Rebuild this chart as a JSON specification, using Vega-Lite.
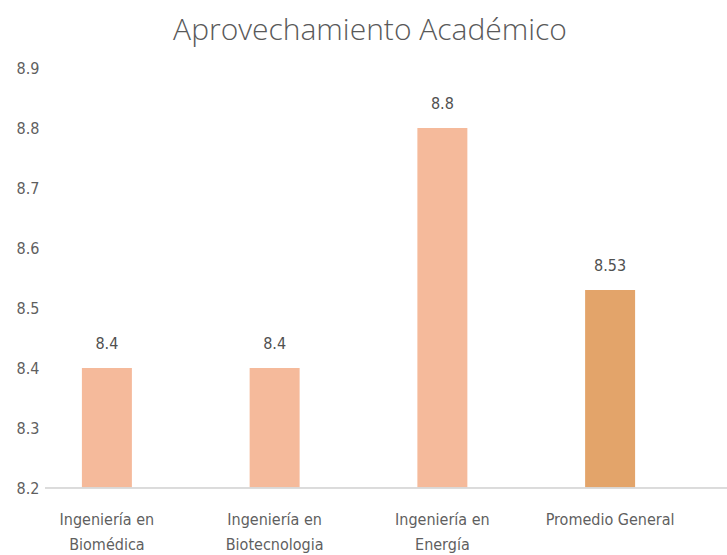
{
  "$schema": "https://vega.github.io/schema/vega-lite/v6.json",
  "autosize": "none",
  "width": 682,
  "height": 420,
  "padding": {"left": 45, "top": 68, "right": 0, "bottom": 67},
  "background": "white",
  "title": {
    "text": "Aprovechamiento Académico",
    "font": "Open Sans",
    "fontSize": 30,
    "fontWeight": 300,
    "color": "#595959",
    "anchor": "middle",
    "frame": "group",
    "dx": -16,
    "offset": 14
  },
  "config": {
    "view": {"stroke": null},
    "font": "DejaVu Sans Condensed, Open Sans, sans-serif"
  },
  "data": {
    "values": [
      {"carrera": "Ingeniería en Biomédica", "valor": 8.4, "etiqueta": "8.4", "tipo": "carrera"},
      {"carrera": "Ingeniería en Biotecnologia", "valor": 8.4, "etiqueta": "8.4", "tipo": "carrera"},
      {"carrera": "Ingeniería en Energía", "valor": 8.8, "etiqueta": "8.8", "tipo": "carrera"},
      {"carrera": "Promedio General", "valor": 8.53, "etiqueta": "8.53", "tipo": "promedio"}
    ]
  },
  "encoding": {
    "x": {
      "field": "carrera",
      "type": "nominal",
      "sort": null,
      "scale": {"range": [0, 627], "paddingInner": 0.702, "paddingOuter": 0.22},
      "axis": {
        "title": null,
        "domain": false,
        "ticks": false,
        "labelAngle": 0,
        "labelFont": "DejaVu Sans Condensed, Open Sans, sans-serif",
        "labelFontSize": 16,
        "labelColor": "#5f5f5f",
        "labelPadding": 23,
        "labelLineHeight": 25,
        "labelExpr": "indexof(datum.value, 'Ingeniería en') == 0 ? ['Ingeniería en', substring(datum.value, 14)] : datum.value"
      }
    },
    "y": {
      "field": "valor",
      "type": "quantitative",
      "scale": {"domain": [8.2, 8.9], "zero": false, "nice": false},
      "axis": {
        "title": null,
        "domain": false,
        "ticks": false,
        "grid": false,
        "values": [8.2, 8.3, 8.4, 8.5, 8.6, 8.7, 8.8, 8.9],
        "format": ".1f",
        "labelFont": "DejaVu Sans Condensed, Open Sans, sans-serif",
        "labelFontSize": 16,
        "labelColor": "#5f5f5f",
        "labelPadding": 6
      }
    }
  },
  "layer": [
    {
      "mark": {"type": "bar", "clip": true},
      "encoding": {
        "y2": {"datum": 8.2},
        "color": {
          "field": "tipo",
          "type": "nominal",
          "scale": {"domain": ["carrera", "promedio"], "range": ["#F5BA9B", "#E3A46A"]},
          "legend": null
        }
      }
    },
    {
      "mark": {"type": "text", "dy": -16, "fontSize": 16, "color": "#505050", "baseline": "bottom", "font": "DejaVu Sans Condensed, Open Sans, sans-serif"},
      "encoding": {"text": {"field": "etiqueta", "type": "nominal"}}
    },
    {
      "mark": {"type": "rule", "color": "#d9d9d9", "strokeWidth": 1},
      "encoding": {"y": {"datum": 8.2}, "x": null}
    }
  ]
}
